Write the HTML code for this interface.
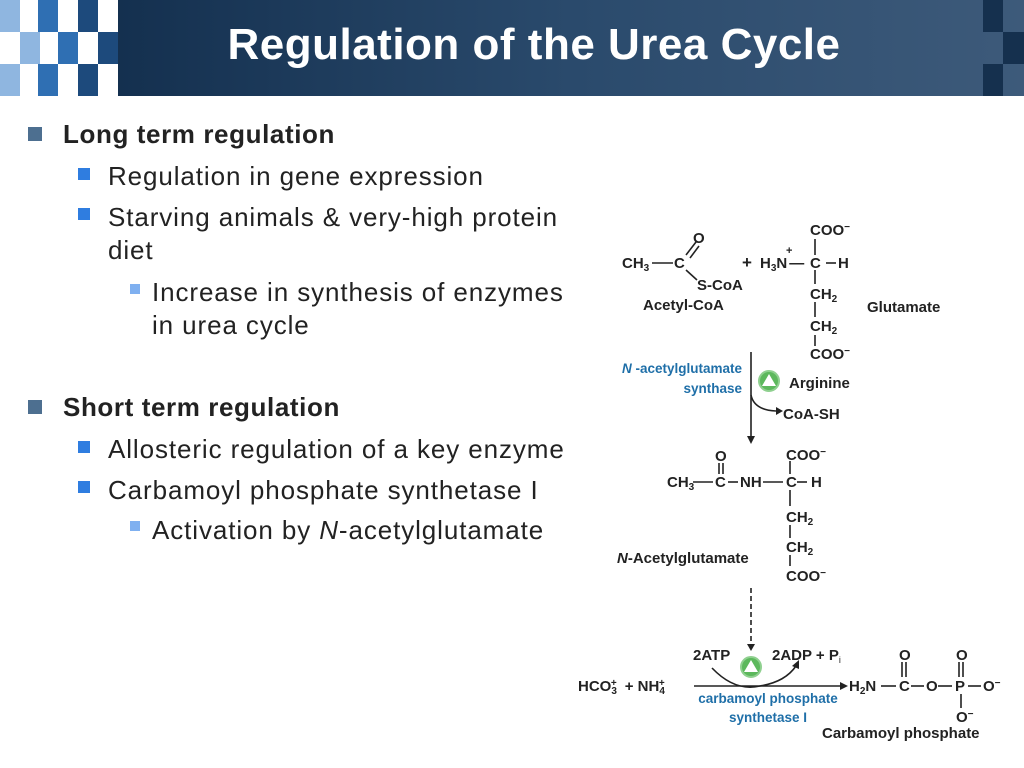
<!DOCTYPE html>
<html><head><meta charset="utf-8"><style>
body{margin:0;width:1024px;height:768px;background:#fff;overflow:hidden;position:relative;font-family:"Liberation Sans",sans-serif;}
.hdr{position:absolute;left:118px;top:0;width:906px;height:96px;background:linear-gradient(90deg,#14304f 0%,#2a4a6c 50%,#3d5a7a 100%);}
.sq{position:absolute;width:20px;height:32px;}
.t{position:absolute;color:#222;font-size:26px;letter-spacing:0.9px;white-space:nowrap;}
.b{position:absolute;}
</style></head><body>
<div class="hdr"></div>
<div class="sq" style="left:0;top:0;background:#8fb6e0"></div>
<div class="sq" style="left:38px;top:0;background:#2f6fb3"></div>
<div class="sq" style="left:78px;top:0;background:#1d4a7c"></div>
<div class="sq" style="left:20px;top:32px;background:#8fb6e0"></div>
<div class="sq" style="left:58px;top:32px;background:#2f6fb3"></div>
<div class="sq" style="left:98px;top:32px;background:#1d4a7c"></div>
<div class="sq" style="left:0;top:64px;background:#8fb6e0"></div>
<div class="sq" style="left:38px;top:64px;background:#2f6fb3"></div>
<div class="sq" style="left:78px;top:64px;background:#1d4a7c"></div>
<div class="sq" style="left:983px;top:0;background:#15304e"></div>
<div class="sq" style="left:1003px;top:32px;background:#15304e;width:21px"></div>
<div class="sq" style="left:983px;top:64px;background:#15304e"></div>
<div style="position:absolute;left:100px;width:868px;top:20px;text-align:center;color:#fff;font-weight:bold;font-size:44px;letter-spacing:0.5px">Regulation of the Urea Cycle</div>

<div class="b" style="left:28px;top:127px;width:14px;height:14px;background:#4d6f90"></div>
<div class="t" style="left:63px;top:119px;font-weight:bold;letter-spacing:0.6px">Long term regulation</div>
<div class="b" style="left:78px;top:168px;width:12px;height:12px;background:#2f7de0"></div>
<div class="t" style="left:108px;top:161px">Regulation in gene expression</div>
<div class="b" style="left:78px;top:208px;width:12px;height:12px;background:#2f7de0"></div>
<div class="t" style="left:108px;top:202px">Starving animals &amp; very-high protein</div>
<div class="t" style="left:108px;top:235px">diet</div>
<div class="b" style="left:130px;top:284px;width:10px;height:10px;background:#7fb0f0"></div>
<div class="t" style="left:152px;top:277px">Increase in synthesis of enzymes</div>
<div class="t" style="left:152px;top:310px">in urea cycle</div>
<div class="b" style="left:28px;top:400px;width:14px;height:14px;background:#4d6f90"></div>
<div class="t" style="left:63px;top:392px;font-weight:bold;letter-spacing:0.6px">Short term regulation</div>
<div class="b" style="left:78px;top:441px;width:12px;height:12px;background:#2f7de0"></div>
<div class="t" style="left:108px;top:434px">Allosteric regulation of a key enzyme</div>
<div class="b" style="left:78px;top:481px;width:12px;height:12px;background:#2f7de0"></div>
<div class="t" style="left:108px;top:475px">Carbamoyl phosphate synthetase I</div>
<div class="b" style="left:130px;top:521px;width:10px;height:10px;background:#7fb0f0"></div>
<div class="t" style="left:152px;top:515px">Activation by <i>N</i>-acetylglutamate</div>

<svg style="position:absolute;left:0;top:0" width="1024" height="768" font-family="Liberation Sans,sans-serif" font-weight="bold" font-size="15" fill="#222">
<g stroke="#222" stroke-width="1.6" fill="none">
<line x1="652" y1="263" x2="673" y2="263"/>
<line x1="686" y1="255" x2="696" y2="242"/><line x1="690" y1="258" x2="699" y2="246"/>
<line x1="686" y1="270" x2="697" y2="280"/>
<line x1="826" y1="263" x2="836" y2="263"/>
<line x1="815" y1="239" x2="815" y2="255"/><line x1="815" y1="270" x2="815" y2="284"/>
<line x1="815" y1="302" x2="815" y2="317"/><line x1="815" y1="335" x2="815" y2="346"/>
<line x1="751" y1="352" x2="751" y2="436"/>
<path d="M751 395 Q754 410 776 411"/>
<line x1="693" y1="482" x2="713" y2="482"/><line x1="728" y1="482" x2="738" y2="482"/>
<line x1="763" y1="482" x2="783" y2="482"/><line x1="797" y1="482" x2="807" y2="482"/>
<line x1="719" y1="463" x2="719" y2="474"/><line x1="723" y1="463" x2="723" y2="474"/>
<line x1="790" y1="461" x2="790" y2="474"/><line x1="790" y1="490" x2="790" y2="506"/>
<line x1="790" y1="525" x2="790" y2="538"/><line x1="790" y1="555" x2="790" y2="566"/>
<line x1="751" y1="588" x2="751" y2="644" stroke-dasharray="5,3"/>
<line x1="694" y1="686" x2="840" y2="686"/>
<path d="M712 668 Q735 692 760 686 Q785 682 796 666"/>
<line x1="881" y1="686" x2="896" y2="686"/><line x1="911" y1="686" x2="924" y2="686"/>
<line x1="938" y1="686" x2="952" y2="686"/><line x1="968" y1="686" x2="981" y2="686"/>
<line x1="902" y1="662" x2="902" y2="677"/><line x1="906" y1="662" x2="906" y2="677"/>
<line x1="959" y1="662" x2="959" y2="677"/><line x1="963" y1="662" x2="963" y2="677"/>
<line x1="961" y1="694" x2="961" y2="708"/>
</g>
<g fill="#222">
<polygon points="747,436 755,436 751,444"/>
<polygon points="776,407 783,411 776,415"/>
<polygon points="747,644 755,644 751,651"/>
<polygon points="840,682 848,686 840,690"/>
<polygon points="792,666 799,660 799,669"/>
</g>
<text x="693" y="243">O</text>
<text x="622" y="268">CH<tspan font-size="10" dy="3">3</tspan></text>
<text x="674" y="268">C</text>
<text x="697" y="290">S-CoA</text>
<text x="643" y="310">Acetyl-CoA</text>
<text x="742" y="268" font-size="17">+</text>
<text x="760" y="268">H<tspan font-size="10" dy="3">3</tspan><tspan dy="-3">N</tspan><tspan dx="2">—</tspan></text>
<text x="786" y="254" font-size="11">+</text>
<text x="810" y="268">C</text><text x="838" y="268">H</text>
<text x="810" y="235">COO<tspan font-size="10" dy="-5">−</tspan></text>
<text x="810" y="299">CH<tspan font-size="10" dy="3">2</tspan></text>
<text x="810" y="331">CH<tspan font-size="10" dy="3">2</tspan></text>
<text x="810" y="359">COO<tspan font-size="10" dy="-5">−</tspan></text>
<text x="867" y="312">Glutamate</text>
<text x="742" y="373" fill="#1f6fa8" text-anchor="end" font-size="13.5"><tspan font-style="italic">N</tspan> -acetylglutamate</text>
<text x="742" y="393" fill="#1f6fa8" text-anchor="end" font-size="13.5">synthase</text>
<circle cx="769" cy="381" r="10" fill="#5cb85c" stroke="#8fd08f" stroke-width="2"/>
<polygon points="769,374 776,386 762,386" fill="#fff"/>
<text x="789" y="388">Arginine</text>
<text x="783" y="419">CoA-SH</text>
<text x="715" y="461">O</text>
<text x="667" y="487">CH<tspan font-size="10" dy="3">3</tspan></text>
<text x="715" y="487">C</text><text x="740" y="487">NH</text>
<text x="786" y="487">C</text><text x="811" y="487">H</text>
<text x="786" y="460">COO<tspan font-size="10" dy="-5">−</tspan></text>
<text x="786" y="522">CH<tspan font-size="10" dy="3">2</tspan></text>
<text x="786" y="552">CH<tspan font-size="10" dy="3">2</tspan></text>
<text x="786" y="581">COO<tspan font-size="10" dy="-5">−</tspan></text>
<text x="617" y="563"><tspan font-style="italic">N</tspan>-Acetylglutamate</text>
<text x="693" y="660">2ATP</text>
<circle cx="751" cy="667" r="10" fill="#5cb85c" stroke="#8fd08f" stroke-width="2"/>
<polygon points="751,660 758,672 744,672" fill="#fff"/>
<text x="772" y="660">2ADP + P<tspan font-size="9" dy="3" font-weight="normal">i</tspan></text>
<text x="578" y="691">HCO<tspan font-size="10" dy="3">3</tspan><tspan font-size="10" dy="-8" dx="-6">+</tspan><tspan dy="5" dx="8">+  NH</tspan><tspan font-size="10" dy="3">4</tspan><tspan font-size="10" dy="-8" dx="-6">+</tspan></text>
<text x="768" y="703" fill="#1f6fa8" text-anchor="middle" font-size="13.5">carbamoyl phosphate</text>
<text x="768" y="722" fill="#1f6fa8" text-anchor="middle" font-size="13.5">synthetase I</text>
<text x="849" y="691">H<tspan font-size="10" dy="3">2</tspan><tspan dy="-3">N</tspan></text>
<text x="899" y="691">C</text><text x="926" y="691">O</text><text x="955" y="691">P</text>
<text x="983" y="691">O<tspan font-size="10" dy="-5">−</tspan></text>
<text x="899" y="660">O</text><text x="956" y="660">O</text>
<text x="956" y="722">O<tspan font-size="10" dy="-5">−</tspan></text>
<text x="822" y="738">Carbamoyl phosphate</text>
</svg>
</body></html>
